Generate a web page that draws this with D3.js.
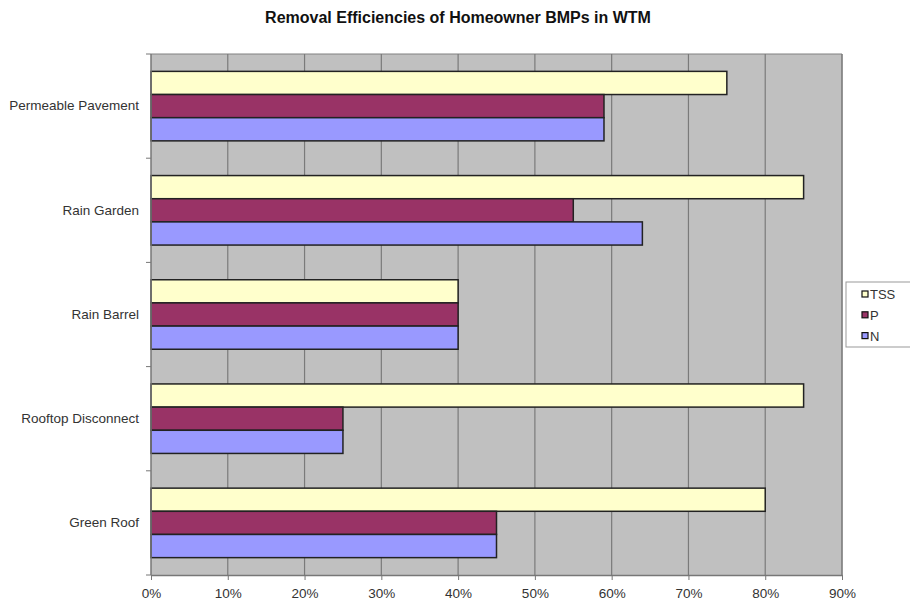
<!DOCTYPE html>
<html><head><meta charset="utf-8">
<script src="https://cdn.jsdelivr.net/npm/d3@7"></script>
<style>body{margin:0;background:#fff;} svg{display:block;font-family:Arial,"Liberation Sans",sans-serif;}</style>
</head><body><svg id="c" width="910" height="603"></svg>
<script>
const categories = ["Permeable Pavement","Rain Garden","Rain Barrel","Rooftop Disconnect","Green Roof"];
const seriesNames = ["TSS","P","N"];
const tssValues = [75,85,40,85,80];
const pValues = [59,55,40,25,45];
const nValues = [59,64,40,25,45];
const tickValues = [0,10,20,30,40,50,60,70,80,90];
const colors = ["#FFFFCC","#993366","#9999FF"];
const seriesValues = [tssValues,pValues,nValues];

const svg = d3.select("#c");
const L=151, R=842, T=54, B=575;
const x = d3.scaleLinear().domain([0,90]).range([L,R]);
const y = d3.scaleBand().domain(categories).range([T,B]).paddingInner(0.333).paddingOuter(0.1667);
const inner = d3.scaleBand().domain(seriesNames).range([0,y.bandwidth()]);

svg.append("text").attr("x",458).attr("y",23).attr("text-anchor","middle")
  .attr("font-size",16).attr("font-weight","bold").attr("fill","#111")
  .text("Removal Efficiencies of Homeowner BMPs in WTM");

svg.append("rect").attr("x",L).attr("y",T).attr("width",R-L).attr("height",B-T).attr("fill","#C0C0C0");
svg.append("path").attr("d",`M${L},${T}H${R}V${B}`).attr("fill","none").attr("stroke","#808080").attr("stroke-width",1);

svg.append("g").selectAll("line").data(tickValues.slice(1)).join("line")
  .attr("x1",d=>x(d)).attr("x2",d=>x(d)).attr("y1",T).attr("y2",B)
  .attr("stroke","#7a7a7a").attr("stroke-width",1.2);

const g = svg.append("g");
categories.forEach((c,i)=>{
  seriesNames.forEach((s,j)=>{
    g.append("rect").attr("x",x(0)).attr("y",y(c)+inner(s))
      .attr("width",x(seriesValues[j][i])-x(0)).attr("height",inner.bandwidth())
      .attr("fill",colors[j]).attr("stroke","#222").attr("stroke-width",1.5);
  });
});

const xAxis = d3.axisBottom(x).tickValues(tickValues).tickFormat(d=>d+"%").tickSize(5).tickSizeOuter(0);
const xg = svg.append("g").attr("transform",`translate(0,${B})`).call(xAxis);
xg.select(".domain").attr("stroke","#777").attr("stroke-width",1.5);
xg.selectAll(".tick line").attr("stroke","#777");
xg.selectAll("text").attr("font-size",13.5).attr("fill","#333").attr("dy","1.1em").attr("font-family","Arial,'Liberation Sans',sans-serif");

const yAxis = d3.axisLeft(y).tickSize(0).tickPadding(12);
const yg = svg.append("g").attr("transform",`translate(${L},0)`).call(yAxis);
yg.select(".domain").attr("stroke","#777").attr("stroke-width",1.5).attr("d",`M0,${T}V${B}`);
yg.selectAll("text").attr("font-size",13.5).attr("fill","#333").attr("font-family","Arial,'Liberation Sans',sans-serif");
const bounds = d3.range(categories.length+1).map(i=>T+i*(B-T)/categories.length);
svg.append("g").selectAll("line").data(bounds).join("line")
  .attr("x1",L-5).attr("x2",L).attr("y1",d=>d).attr("y2",d=>d).attr("stroke","#777");

svg.append("rect").attr("x",846).attr("y",282).attr("width",70).attr("height",65)
  .attr("fill","#fff").attr("stroke","#999").attr("stroke-width",1);
const lg = svg.append("g").selectAll("g").data(seriesNames).join("g")
  .attr("transform",(d,i)=>`translate(862,${294+i*20.8})`);
lg.append("rect").attr("x",0).attr("y",-3).attr("width",6).attr("height",6)
  .attr("fill",(d,i)=>colors[i]).attr("stroke","#111").attr("stroke-width",1.2);
lg.append("text").attr("x",8).attr("y",5).attr("font-size",13).attr("fill","#333").text(d=>d);
</script></body></html>
